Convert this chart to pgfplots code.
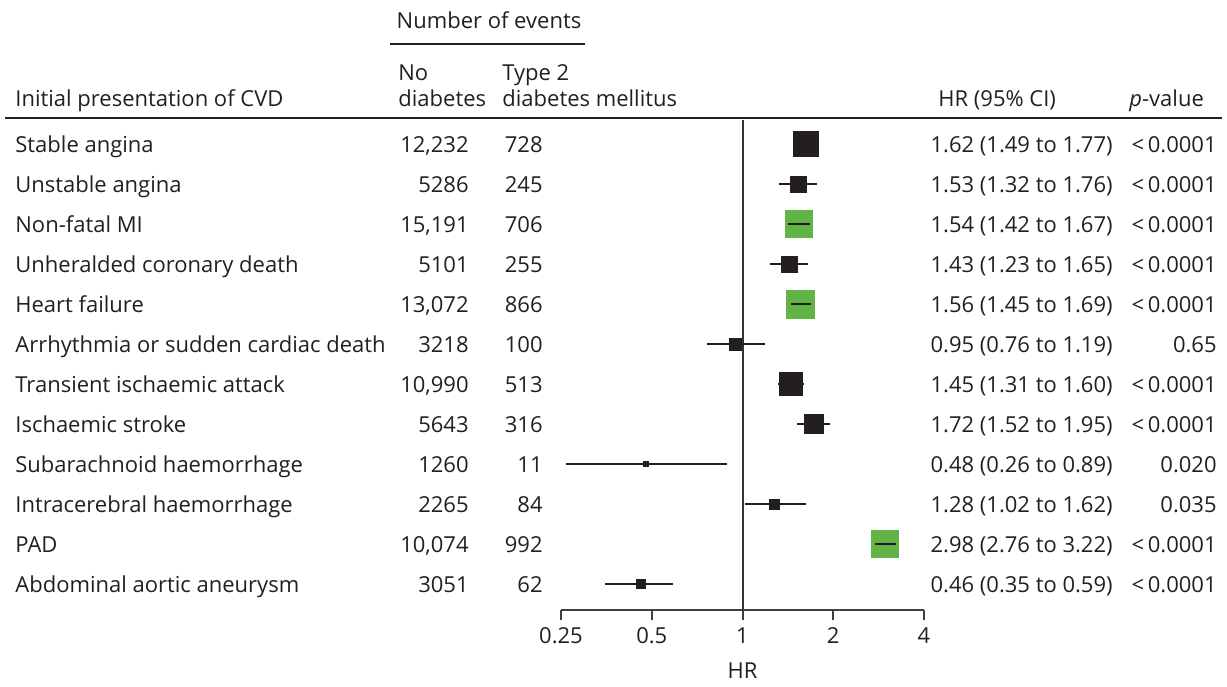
\documentclass[border=0pt]{standalone}
\usepackage{pgfplots}
\pgfplotsset{compat=1.18}
\usepackage{fontspec}
\setmainfont{Open Sans}
\definecolor{grn}{HTML}{62B446}
\definecolor{blk}{HTML}{231F20}
\newcommand\fs{\fontsize{11pt}{13pt}\selectfont}
% row index, label, no diabetes, T2DM, HR text, p text
\newcommand\row[6]{%
  \node[anchor=base west] at (15,{152+40*(#1-1)}) {#2};
  \node[anchor=base east] at (469,{152+40*(#1-1)}) {#3};
  \node[anchor=base east] at (543,{152+40*(#1-1)}) {#4};
  \node[anchor=base east] at (1113,{152+40*(#1-1)}) {#5};
  \node[anchor=base east] at (1217,{152+40*(#1-1)}) {#6};
}
% black row: i, hr, lo, hi, marksize
\newcommand\brow[5]{%
  \addplot[blk, line width=1.1pt, forget plot] coordinates {(#3,#1) (#4,#1)};
  \addplot[only marks, mark=square*, mark size=#5pt, mark options={fill=blk, draw=blk, line width=0pt}, forget plot] coordinates {(#2,#1)};
}
\newcommand\grow[5]{%
  \addplot[only marks, mark=square*, mark size=#5pt, mark options={fill=grn, draw=grn, line width=0pt}, forget plot] coordinates {(#2,#1)};
  \addplot[blk, line width=1.1pt, forget plot, on layer=axis foreground] coordinates {(#3,#1) (#4,#1)};
}
\begin{document}
\fs
\begin{tikzpicture}[font=\fs, text=blk]
\path (0,0) rectangle (613.5pt,-339.5pt);
\begin{axis}[at={(280.5pt,-305pt)}, anchor=south west, scale only axis,
  set layers=standard,
  width=181.5pt, height=245pt,
  xmode=log, log basis x=2, xmin=0.25, xmax=4,
  ymin=0.4, ymax=12.65, y dir=reverse,
  axis x line=bottom, axis y line=none,
  xtick={0.25,0.5,1,2,4}, xticklabels={0.25,0.5,1,2,4}, minor xtick={},
  tick align=outside, major tick length=5pt,
  x axis line style={-, line width=1pt, black!75},
  xtick style={line width=1pt, black!75},
  xticklabel style={font=\fs, text=blk},
  xlabel={HR}, xlabel style={font=\fs, text=blk, yshift=-2pt},
  clip=false]
\draw[line width=1pt, black!80] (axis cs:1,0.4) -- (axis cs:1,12.65);
\brow{1}{1.62}{1.49}{1.77}{6.25}
\brow{2}{1.53}{1.32}{1.76}{4}
\grow{3}{1.54}{1.42}{1.67}{6.75}
\brow{4}{1.43}{1.23}{1.65}{4}
\grow{5}{1.56}{1.45}{1.69}{7}
\brow{6}{0.95}{0.76}{1.19}{3}
\brow{7}{1.45}{1.31}{1.60}{5.75}
\brow{8}{1.72}{1.52}{1.95}{4.75}
\brow{9}{0.48}{0.26}{0.89}{1.25}
\brow{10}{1.28}{1.02}{1.62}{2.5}
\grow{11}{2.98}{2.76}{3.22}{6.75}
\brow{12}{0.46}{0.35}{0.59}{2.25}
\end{axis}
\begin{scope}[x=0.5pt,y=-0.5pt, every node/.style={inner sep=0pt}]
% header
\node[anchor=base] at (489,28) {Number of events};
\draw[line width=1pt, blk] (390,44) -- (585,44);
\node[anchor=base west] at (398,80) {No};
\node[anchor=base west] at (398,106) {diabetes};
\node[anchor=base west] at (502,80) {Type 2};
\node[anchor=base west] at (502,106) {diabetes mellitus};
\node[anchor=base west] at (15,106) {Initial presentation of CVD};
\node[anchor=base west] at (938,106) {HR (95\% CI)};
\node[anchor=base west] at (1129,106) {\textit{p}-value};
\draw[line width=1.4pt, blk] (5,118) -- (1222,118);
\row{1}{Stable angina}{12,232}{728}{1.62 (1.49 to 1.77)}{{<}\,0.0001}
\row{2}{Unstable angina}{5286}{245}{1.53 (1.32 to 1.76)}{{<}\,0.0001}
\row{3}{Non-fatal MI}{15,191}{706}{1.54 (1.42 to 1.67)}{{<}\,0.0001}
\row{4}{Unheralded coronary death}{5101}{255}{1.43 (1.23 to 1.65)}{{<}\,0.0001}
\row{5}{Heart failure}{13,072}{866}{1.56 (1.45 to 1.69)}{{<}\,0.0001}
\row{6}{Arrhythmia or sudden cardiac death}{3218}{100}{0.95 (0.76 to 1.19)}{0.65}
\row{7}{Transient ischaemic attack}{10,990}{513}{1.45 (1.31 to 1.60)}{{<}\,0.0001}
\row{8}{Ischaemic stroke}{5643}{316}{1.72 (1.52 to 1.95)}{{<}\,0.0001}
\row{9}{Subarachnoid haemorrhage}{1260}{11}{0.48 (0.26 to 0.89)}{0.020}
\row{10}{Intracerebral haemorrhage}{2265}{84}{1.28 (1.02 to 1.62)}{0.035}
\row{11}{PAD}{10,074}{992}{2.98 (2.76 to 3.22)}{{<}\,0.0001}
\row{12}{Abdominal aortic aneurysm}{3051}{62}{0.46 (0.35 to 0.59)}{{<}\,0.0001}
\end{scope}
\end{tikzpicture}
\end{document}
